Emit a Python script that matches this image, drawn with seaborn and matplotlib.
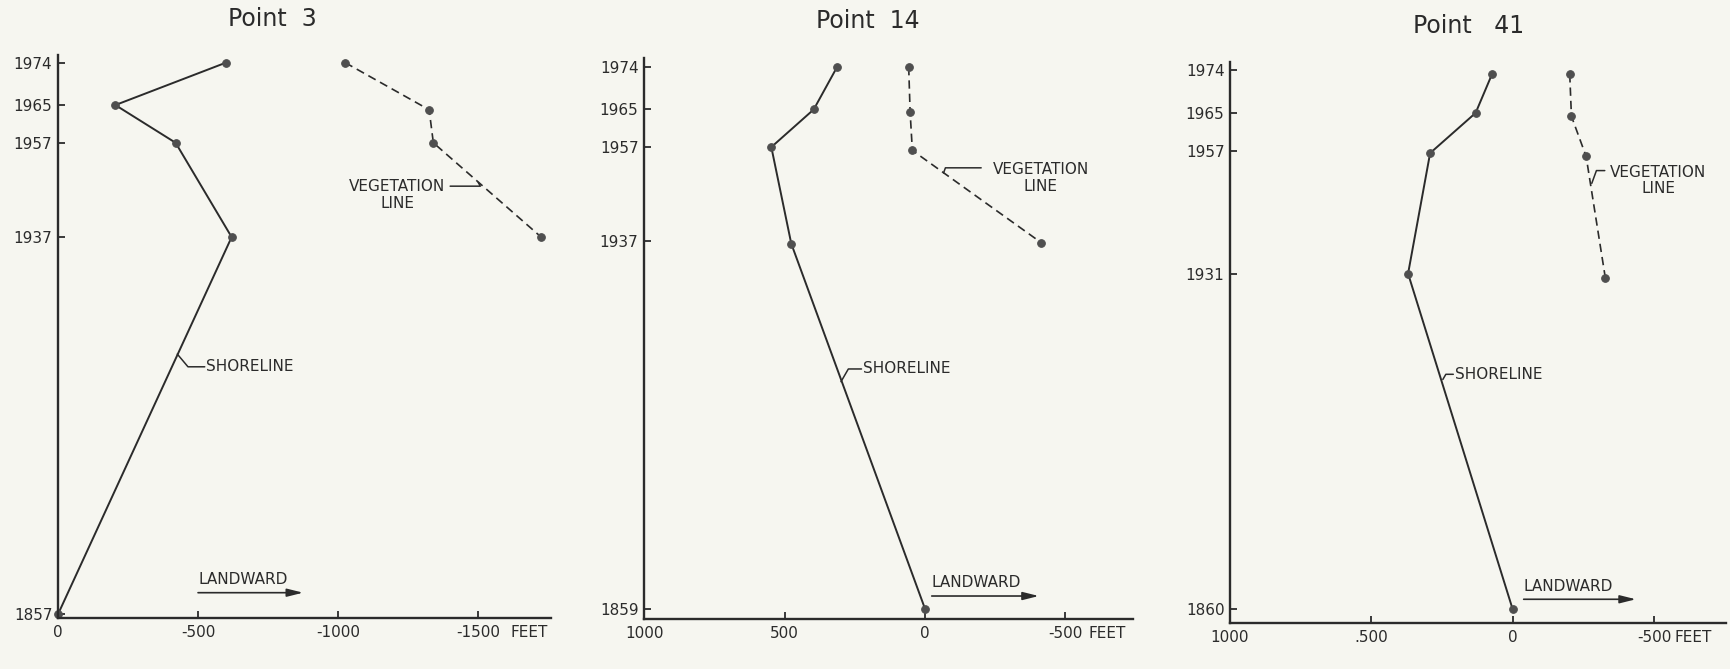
import matplotlib
matplotlib.use("Agg")
import matplotlib.pyplot as plt
import seaborn as sns

# feet from the 1850s shoreline (negative = landward) against survey year
p3_shore_ft = [-600, -205, -420, -620, 0]
p3_shore_yr = [1974, 1965, 1957, 1937, 1857]
p3_veg_ft = [-1025, -1325, -1340, -1725]
p3_veg_yr = [1974, 1964, 1957, 1937]

p14_shore_ft = [313, 396, 547, 476, 0]
p14_shore_yr = [1974, 1965, 1957, 1936.5, 1859]
p14_veg_ft = [58, 53, 45, -414]
p14_veg_yr = [1974, 1964.5, 1956.3, 1936.7]

p41_shore_ft = [73, 131, 292, 370, 0]
p41_shore_yr = [1973.2, 1965, 1956.5, 1931, 1860]
p41_veg_ft = [-202, -208, -260, -328]
p41_veg_yr = [1973.2, 1964.3, 1955.8, 1930.1]

titles = ["Point  3", "Point  14", "Point   41"]
p3_xticks = [0, -500, -1000, -1500]
p3_xlabels = ["0", "-500", "-1000", "-1500"]
p14_xticks = [1000, 500, 0, -500]
p14_xlabels = ["1000", "500", "0", "-500"]
p41_xticks = [1000, 500, 0, -500]
p41_xlabels = ["1000", ".500", "0", "-500"]
p3_yticks = [1974, 1965, 1957, 1937, 1857]
p14_yticks = [1974, 1965, 1957, 1937, 1859]
p41_yticks = [1974, 1965, 1957, 1931, 1860]

bg = "#f6f6f0"
ink = "#2b2b2b"
dot = "#4f4f4f"
fs = 11

sns.set_theme(style="ticks")
plt.rcParams["font.family"] = ["DejaVu Sans"]

fig = plt.figure(figsize=(17.3, 6.69), dpi=100, facecolor=bg)
ax1 = fig.add_axes([0.0335, 0.0767, 0.285, 0.8417])
ax2 = fig.add_axes([0.3723, 0.0753, 0.2827, 0.8386])
ax3 = fig.add_axes([0.711, 0.0689, 0.2867, 0.8386])

panels = [
    (ax1, p3_shore_ft, p3_shore_yr, p3_veg_ft, p3_veg_yr, p3_xticks, p3_xlabels, p3_yticks,
     (0, -1760), (1856.3, 1975.7)),
    (ax2, p14_shore_ft, p14_shore_yr, p14_veg_ft, p14_veg_yr, p14_xticks, p14_xlabels, p14_yticks,
     (1000, -741), (1856.9, 1976)),
    (ax3, p41_shore_ft, p41_shore_yr, p41_veg_ft, p41_veg_yr, p41_xticks, p41_xlabels, p41_yticks,
     (1000, -755), (1857.1, 1975.8)),
]

for ax, sft, syr, vft, vyr, xt, xl, yt, xlim, ylim in panels:
    ax.set_facecolor(bg)
    sns.lineplot(x=sft, y=syr, ax=ax, sort=False, estimator=None, color=ink, lw=1.4,
                 marker="o", markersize=5.5, markerfacecolor=dot, markeredgecolor=dot, clip_on=False)
    sns.lineplot(x=vft, y=vyr, ax=ax, sort=False, estimator=None, color=ink, lw=1.2,
                 linestyle=(0, (5, 3)), marker="o", markersize=5.5,
                 markerfacecolor=dot, markeredgecolor=dot, clip_on=False)
    ax.set_xlim(*xlim)
    ax.set_ylim(*ylim)
    ax.set_xticks(xt)
    ax.set_xticklabels(xl)
    ax.set_yticks(yt)
    ax.set_yticklabels([str(y) for y in yt])
    ax.tick_params(direction="in", length=5, width=1.3, colors=ink, labelsize=fs)
    ax.tick_params(axis="x", pad=5)
    ax.tick_params(axis="y", pad=4)
    for side in ["top", "right"]:
        ax.spines[side].set_visible(False)
    for side in ["left", "bottom"]:
        ax.spines[side].set_color(ink)
        ax.spines[side].set_linewidth(1.7)
    ax.set_xlabel("")
    ax.set_ylabel("")

# "FEET" after the last tick label
for ax, fx in [(ax1, -1616), (ax2, -583), (ax3, -573)]:
    ax.annotate("FEET", xy=(fx, 0), xycoords=("data", "axes fraction"), xytext=(0, -5),
                textcoords="offset points", ha="left", va="top", fontsize=fs, color=ink)

# titles
for x, y, t in [(272, 19, titles[0]), (868, 21, titles[1]), (1469, 26, titles[2])]:
    fig.text(x / 1730, 1 - y / 669, t, ha="center", va="center", fontsize=17, color=ink)

lead = dict(arrowstyle="-", color=ink, lw=1.1, shrinkA=0, shrinkB=0)

# vegetation line labels
ax1.text(-1211, 1946.0, "VEGETATION\nLINE", ha="center", va="center", fontsize=fs,
         color=ink, linespacing=1.15)
ax1.annotate("", xy=(-1500, 1948.6), xytext=(-1400, 1947.8),
             arrowprops=dict(lead, connectionstyle="angle,angleA=0,angleB=-60,rad=0"))
ax2.text(-412, 1950.4, "VEGETATION\nLINE", ha="center", va="center", fontsize=fs,
         color=ink, linespacing=1.15)
ax2.annotate("", xy=(-66, 1951.5), xytext=(-200, 1952.6),
             arrowprops=dict(lead, connectionstyle="angle,angleA=0,angleB=70,rad=0"))
ax3.text(-516, 1950.7, "VEGETATION\nLINE", ha="center", va="center", fontsize=fs,
         color=ink, linespacing=1.15)
ax3.annotate("", xy=(-280, 1950.1), xytext=(-326, 1952.8),
             arrowprops=dict(lead, connectionstyle="angle,angleA=0,angleB=70,rad=0"))

# shoreline labels
ax1.text(-529, 1909.5, "SHORELINE", ha="left", va="center", fontsize=fs, color=ink)
ax1.annotate("", xy=(-426, 1912.2), xytext=(-524, 1909.5),
             arrowprops=dict(lead, connectionstyle="angle,angleA=0,angleB=-50,rad=0"))
ax2.text(220, 1909.9, "SHORELINE", ha="left", va="center", fontsize=fs, color=ink)
ax2.annotate("", xy=(299, 1907.2), xytext=(226, 1909.9),
             arrowprops=dict(lead, connectionstyle="angle,angleA=0,angleB=60,rad=0"))
ax3.text(204, 1909.7, "SHORELINE", ha="left", va="center", fontsize=fs, color=ink)
ax3.annotate("", xy=(247, 1908.6), xytext=(210, 1909.7),
             arrowprops=dict(lead, connectionstyle="angle,angleA=0,angleB=60,rad=0"))

# landward arrows
arrow = dict(arrowstyle="-|>,head_length=0.8,head_width=0.2", color=ink, lw=1.2,
             shrinkA=0, shrinkB=0)
for ax, x0, x1, y in [(ax1, -500, -875, 1861.6), (ax2, -24, -405, 1861.7), (ax3, -39, -436, 1862.1)]:
    ax.annotate("", xy=(x1, y), xytext=(x0, y), arrowprops=arrow)
    ax.annotate("LANDWARD", xy=(x0, y), xytext=(0, 4), textcoords="offset points",
                ha="left", va="bottom", fontsize=fs, color=ink)

fig.savefig("out.png", dpi=100, facecolor=bg)
plt.close(fig)
